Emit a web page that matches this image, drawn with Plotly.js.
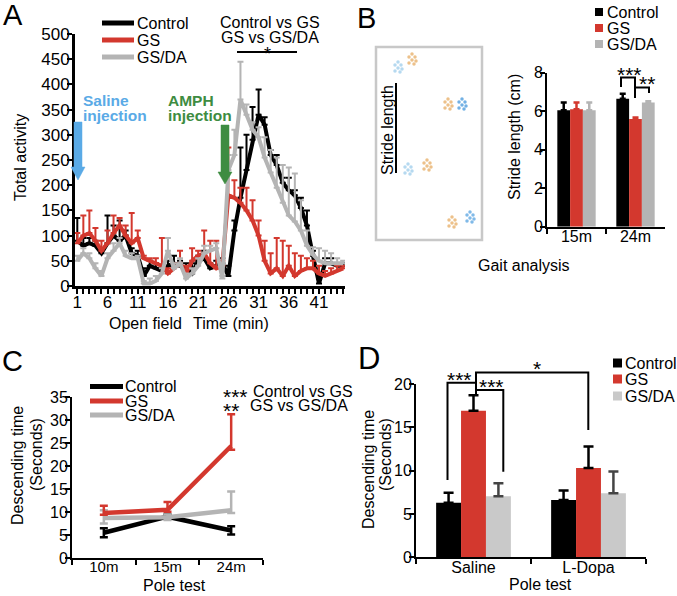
<!DOCTYPE html>
<html><head><meta charset="utf-8">
<script src="https://cdn.plot.ly/plotly-3.0.1.min.js"></script>
<style>html,body{margin:0;padding:0;background:#fff}#chart{width:677px;height:596px}</style>
</head><body><div id="chart"></div>
<script>
// ---------- Panel A: open field ----------
const minutes = [1,2,3,4,5,6,7,8,9,10,11,12,13,14,15,16,17,18,19,20,21,22,23,24,25,26,27,28,29,30,31,32,33,34,35,36,37,38,39,40,41,42,43,44,45];
const ctrlActivity = [90,80,85,80,65,85,100,90,100,65,60,20,40,35,30,40,45,40,35,25,50,55,35,40,45,20,110,175,230,290,340,320,260,240,205,190,180,155,120,60,5,45,45,40,40];
const ctrlActivityErr = [45,15,10,10,10,55,20,40,10,10,10,15,10,10,5,10,15,10,10,20,10,15,10,10,10,20,20,100,70,65,50,15,10,20,10,25,10,20,30,10,10,10,10,5,5];
const gsActivity = [85,100,105,90,70,85,105,120,100,85,95,55,50,45,40,25,35,45,25,50,60,65,45,35,40,180,175,165,150,130,100,50,25,35,20,40,20,30,35,35,25,20,25,30,35];
const gsActivityErr = [20,40,45,25,20,25,35,15,20,60,15,5,5,10,55,10,10,25,15,25,10,45,45,55,10,95,35,30,45,40,30,40,40,60,70,40,45,30,20,15,15,10,10,10,5];
const gsdaActivity = [50,65,55,35,20,55,70,85,60,55,55,5,5,10,25,70,35,45,15,25,40,65,70,75,15,230,260,370,340,310,295,255,225,195,165,140,128,110,80,62,50,45,45,45,45];
const gsdaActivityErr = [10,10,10,10,10,10,15,10,10,10,5,5,10,10,10,25,10,10,10,10,15,15,10,10,5,30,50,75,20,15,20,40,45,60,75,95,95,60,30,15,25,25,20,10,5];
const minuteTickText = ['1','','','','','6','','','','','11','','','','','16','','','','','21','','','','','26','','','','','31','','','','','36','','','','','41','','','',''];

// ---------- Panel B: gait ----------
const gaitAges = ['15m','24m'];
const strideCtrl = [6.05, 6.65];
const strideCtrlErr = [0.4, 0.25];
const strideGS = [6.1, 5.6];
const strideGSErr = [0.35, 0.07];
const strideGSDA = [6.05, 6.45];
const strideGSDAErr = [0.4, 0.07];

// ---------- Panel C: pole test by age ----------
const poleAges = ['10m','15m','24m'];
const poleCtrl = [5.5, 9.0, 6.0];
const poleCtrlErr = [1.0, 0.5, 0.9];
const poleGS = [9.8, 10.5, 24.4];
const poleGSErrUp = [1.6, 1.7, 6.9];
const poleGSErrDown = [0.4, 0.4, 0.8];
const poleGSDA = [8.7, 8.9, 10.4];
const poleGSDAErrUp = [1.7, 0.6, 4.1];
const poleGSDAErrDown = [1.2, 0.6, 0.6];

// ---------- Panel D: pole test, saline vs L-Dopa ----------
const treatments = ['Saline','L-Dopa'];
const dCtrl = [6.3, 6.6];
const dCtrlErr = [1.15, 1.1];
const dGS = [16.9, 10.3];
const dGSErr = [1.8, 2.5];
const dGSDA = [7.05, 7.4];
const dGSDAErr = [1.5, 2.5];

// decorative footprints in the gait illustration
const footX = [398, 412, 448, 462, 408, 427, 452, 470];
const footY = [68, 60, 105, 105, 170, 166, 223, 218];
const footC = ['#a9d3ee','#eab676','#eab676','#5aa3e0','#a9d3ee','#eab676','#eab676','#6aaee4'];

const W = 677, H = 596;
const PX = x => x / W, PY = y => 1 - y / H;
const BLACK = '#000000', RED = '#d3382e', GRAY = '#b4b4b4', LGRAY = '#c9c9c9';
const FONT = 'Liberation Sans, Arial, sans-serif';

const zeros = n => new Array(n).fill(0);

const traces = [];
// A
function lineA(y, err, color) {
  return {x: minutes, y: y, type: 'scatter', mode: 'lines', xaxis: 'x', yaxis: 'y',
    line: {color: color, width: 4}, cliponaxis: false,
    error_y: {type: 'data', symmetric: false, array: err, arrayminus: zeros(err.length), color: color, thickness: 2, width: 3}};
}
traces.push(lineA(ctrlActivity, ctrlActivityErr, BLACK));
traces.push(lineA(gsActivity, gsActivityErr, RED));
traces.push(lineA(gsdaActivity, gsdaActivityErr, GRAY));

// B
function barB(y, err, color) {
  return {x: gaitAges, y: y, type: 'bar', xaxis: 'x2', yaxis: 'y2', marker: {color: color, line: {width: 0}},
    error_y: {type: 'data', symmetric: false, array: err, arrayminus: zeros(err.length), color: color, thickness: 2.5, width: 3}};
}
traces.push(barB(strideCtrl, strideCtrlErr, BLACK));
traces.push(barB(strideGS, strideGSErr, RED));
traces.push(barB(strideGSDA, strideGSDAErr, GRAY));

// C
function lineC(y, up, down, color) {
  return {x: poleAges, y: y, type: 'scatter', mode: 'lines', xaxis: 'x3', yaxis: 'y3', cliponaxis: false,
    line: {color: color, width: 4.5},
    error_y: {type: 'data', symmetric: false, array: up, arrayminus: down, color: color, thickness: 2.5, width: 4}};
}
traces.push(lineC(poleCtrl, poleCtrlErr, poleCtrlErr, BLACK));
traces.push(lineC(poleGSDA, poleGSDAErrUp, poleGSDAErrDown, GRAY));
traces.push(lineC(poleGS, poleGSErrUp, poleGSErrDown, RED));

// D
function barD(y, err, color) {
  return {x: treatments, y: y, type: 'bar', xaxis: 'x4', yaxis: 'y4', marker: {color: color, line: {width: 0}},
    error_y: {type: 'data', symmetric: false, array: err, arrayminus: zeros(err.length), color: color === LGRAY ? '#444' : BLACK, thickness: 2.5, width: 5}};
}
traces.push(barD(dCtrl, dCtrlErr, BLACK));
traces.push(barD(dGS, dGSErr, RED));
traces.push(barD(dGSDA, dGSDAErr, LGRAY));

// footprints (decoration) on pixel overlay axis
const fpx = [], fpy = [], fpc = [];
const offs = [[0,0],[-3,-3],[3,-3],[-3,3],[2,4],[0,-6],[4,1]];
footX.forEach((fx, i) => offs.forEach(o => { fpx.push(fx + o[0]); fpy.push(footY[i] + o[1]); fpc.push(footC[i]); }));
traces.push({x: fpx, y: fpy, type: 'scatter', mode: 'markers', xaxis: 'x5', yaxis: 'y5',
  marker: {color: fpc, size: 3.5, line: {width: 0}}, opacity: 0.85});

traces.forEach(t => t.showlegend = false);

function axBase(fs) {
  return {showgrid: false, zeroline: false, showline: true, linecolor: BLACK, ticks: 'outside',
    tickcolor: BLACK, tickfont: {size: fs, color: BLACK, family: FONT}, fixedrange: true, ticklabelstandoff: -6};
}

const shapes = [];
const ann = [];
function txt(x, y, text, opts) {
  ann.push(Object.assign({xref: 'x5', yref: 'y5', x: x, y: y, text: text, showarrow: false,
    xanchor: 'center', yanchor: 'middle', font: {size: 16, color: BLACK, family: FONT}}, opts || {}));
}
const STAR = {size: 21, color: BLACK, family: FONT};
function path(d, color, width, fill) {
  shapes.push({type: 'path', xref: 'x5', yref: 'y5', path: d, line: {color: color, width: width},
    fillcolor: fill || 'rgba(0,0,0,0)'});
}
function lineSeg(x0, y0, x1, y1, color, width) {
  shapes.push({type: 'line', xref: 'x5', yref: 'y5', x0: x0, y0: y0, x1: x1, y1: y1, line: {color: color, width: width}});
}
function square(cx, cy, s, color) {
  shapes.push({type: 'rect', xref: 'x5', yref: 'y5', x0: cx - s/2, x1: cx + s/2, y0: cy - s/2, y1: cy + s/2,
    line: {width: 0}, fillcolor: color});
}

// Panel letters
txt(13, 15, 'A', {font: {size: 29, family: FONT, color: BLACK}});
txt(366, 18, 'B', {font: {size: 29, family: FONT, color: BLACK}});
txt(12, 361, 'C', {font: {size: 29, family: FONT, color: BLACK}});
txt(369, 358, 'D', {font: {size: 31, family: FONT, color: BLACK}});

// A legend
[[23, BLACK, 'Control'], [40, RED, 'GS'], [57, GRAY, 'GS/DA']].forEach(r => {
  lineSeg(102, r[0], 134, r[0], r[1], 5);
  txt(135, r[0], r[2], {xanchor: 'left'});
});
txt(270, 22, 'Control vs GS');
txt(270, 37, 'GS vs GS/DA');
lineSeg(237, 52, 297, 52, BLACK, 2);
txt(267, 54, '*', {font: {size: 18, color: BLACK, family: FONT}});
// injections
const BLUE = '#5aaae6', GREEN = '#3e8c41';
txt(81, 100, '<b>Saline</b>', {xanchor: 'left', font: {size: 15.5, family: FONT, color: BLUE}});
txt(81, 115, '<b>injection</b>', {xanchor: 'left', font: {size: 15.5, family: FONT, color: BLUE}});
path('M74,122 L82,122 L82,167 L85,167 L78,180 L71,167 L74,167 Z', BLUE, 0.5, BLUE);
txt(166, 100, '<b>AMPH</b>', {xanchor: 'left', font: {size: 15.5, family: FONT, color: GREEN}});
txt(166, 115, '<b>injection</b>', {xanchor: 'left', font: {size: 15.5, family: FONT, color: GREEN}});
path('M221,125 L229,125 L229,172 L232,172 L225,184 L218,172 L221,172 Z', GREEN, 0.5, GREEN);
txt(20, 158, 'Total activity', {textangle: -90});
txt(145, 323, 'Open field');
txt(231, 323, 'Time (min)');

// B illustration
shapes.push({type: 'rect', xref: 'x5', yref: 'y5', x0: 376, x1: 482, y0: 47, y1: 240, line: {color: '#c8c8c8', width: 2.5}});
txt(387, 130, 'Stride length', {textangle: -90});
lineSeg(396, 83, 396, 173, BLACK, 2);
txt(524, 265, 'Gait analysis');
txt(514, 137, 'Stride length (cm)', {textangle: -90});
[[12, BLACK, 'Control'], [28, RED, 'GS'], [44, GRAY, 'GS/DA']].forEach(r => {
  square(599, r[0], 8, r[1]);
  txt(605, r[0], r[2], {xanchor: 'left'});
});
path('M621,87 L621,77.5 L635,77.5 L635,98', BLACK, 2);
path('M635,87.5 L649,87.5 L649,93', BLACK, 2);
txt(629.5, 74, '***', {font: STAR});
txt(647, 83, '**', {font: STAR});

// C texts
[[386.5, BLACK, 'Control'], [401, RED, 'GS'], [415, GRAY, 'GS/DA']].forEach(r => {
  lineSeg(90, r[0], 123, r[0], r[1], 5);
  txt(123, r[0], r[2], {xanchor: 'left'});
});
txt(221, 396, '***', {xanchor: 'left', font: STAR});
txt(251, 391, 'Control vs GS', {xanchor: 'left'});
txt(221, 410, '**', {xanchor: 'left', font: STAR});
txt(248, 405, 'GS vs GS/DA', {xanchor: 'left'});
txt(17, 466, 'Descending time', {textangle: -90});
txt(36, 455, '(Seconds)', {textangle: -90});
txt(174, 585, 'Pole test');

// D texts
txt(368, 470, 'Descending time', {textangle: -90});
txt(385, 455, '(Seconds)', {textangle: -90});
txt(540, 584, 'Pole test');
[[363, BLACK, 'Control'], [379, RED, 'GS'], [396, LGRAY, 'GS/DA']].forEach(r => {
  square(617.5, r[0], 9, r[1]);
  txt(623, r[0], r[2], {xanchor: 'left'});
});
path('M447.5,480 L447.5,382.7 L476,382.7', BLACK, 2);
path('M476,396 L476,372.5 L588.3,372.5 L588.3,430', BLACK, 2);
path('M476,390 L503.3,390 L503.3,471.7', BLACK, 2);
txt(459.5, 379, '***', {font: STAR});
txt(491.5, 386.5, '***', {font: STAR});
txt(537, 368, '*', {font: STAR});

const layout = {
  width: W, height: H, margin: {l: 0, r: 0, t: 0, b: 0},
  paper_bgcolor: '#fff', plot_bgcolor: 'rgba(0,0,0,0)',
  font: {family: FONT, size: 16, color: BLACK},
  showlegend: false, barmode: 'group', bargap: 0.35, bargroupgap: 0,
  hovermode: false,
  xaxis: Object.assign(axBase(17), {domain: [PX(75), PX(345)], anchor: 'y', range: [0.62, 45.3],
    tickmode: 'array', tickvals: minutes, ticktext: minuteTickText, ticklen: 5, tickwidth: 2, linewidth: 3}),
  yaxis: Object.assign(axBase(17), {domain: [PY(286), PY(34)], anchor: 'x', range: [0, 500], dtick: 50,
    ticklen: 5, tickwidth: 2, linewidth: 3}),
  xaxis2: Object.assign(axBase(16), {domain: [PX(547), PX(665)], anchor: 'y2', type: 'category', range: [-0.5, 1.5],
    tickson: 'boundaries', ticklen: 5, tickwidth: 2, linewidth: 2}),
  yaxis2: Object.assign(axBase(16), {domain: [PY(226.7), PY(72.7)], anchor: 'x2', range: [0, 8], dtick: 2,
    ticklen: 5, tickwidth: 2, linewidth: 2}),
  xaxis3: Object.assign(axBase(15), {domain: [PX(72), PX(263)], anchor: 'y3', type: 'category', range: [-0.5, 2.5],
    tickson: 'boundaries', ticklen: 5, tickwidth: 2, linewidth: 2}),
  yaxis3: Object.assign(axBase(16), {domain: [PY(558), PY(397.3)], anchor: 'x3', range: [0, 35], dtick: 5,
    ticklen: 5, tickwidth: 2, linewidth: 2}),
  xaxis4: Object.assign(axBase(16), {domain: [PX(416), PX(646)], anchor: 'y4', type: 'category', range: [-0.5, 1.5],
    tickson: 'boundaries', ticklen: 5, tickwidth: 2, linewidth: 2}),
  yaxis4: Object.assign(axBase(16), {domain: [PY(557.3), PY(384)], anchor: 'x4', range: [0, 20], dtick: 5,
    ticklen: 5, tickwidth: 2, linewidth: 2}),
  xaxis5: {domain: [0, 1], range: [0, W], visible: false, anchor: 'y5', fixedrange: true},
  yaxis5: {domain: [0, 1], range: [H, 0], visible: false, anchor: 'x5', fixedrange: true},
  shapes: shapes,
  annotations: ann
};

Plotly.newPlot('chart', traces, layout, {staticPlot: true, displayModeBar: false});
</script>
</body></html>
